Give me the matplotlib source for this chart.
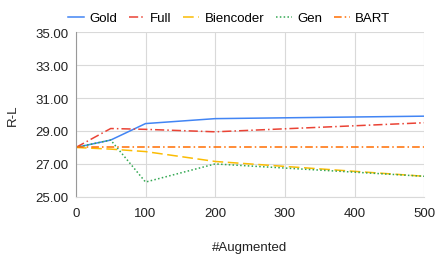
import matplotlib
matplotlib.use("Agg")
import matplotlib.pyplot as plt

plt.rcParams['font.family'] = ['Liberation Sans', 'DejaVu Sans']

augmented = [0, 50, 100, 200, 500]
gold = [28.0, 28.45, 29.45, 29.75, 29.9]
full = [28.0, 29.15, 29.1, 28.95, 29.5]
biencoder = [28.0, 27.9, 27.75, 27.15, 26.25]
gen = [28.0, 28.45, 25.9, 27.0, 26.25]
bart = [28.0, 28.0, 28.0, 28.0, 28.0]

series = [
    ("Gold", gold, "#4285F4", "-"),
    ("Full", full, "#EA4335", (0, (6, 2, 1, 2))),
    ("Biencoder", biencoder, "#FBBC04", (0, (7, 3))),
    ("Gen", gen, "#34A853", (0, (1, 1.5))),
    ("BART", bart, "#FF6D01", (0, (5, 2, 1, 2))),
]

fig = plt.figure(figsize=(4.36, 2.55), dpi=100)
ax = fig.add_axes([0.174, 0.224, 0.799, 0.646])

for name, vals, color, ls in series:
    ax.plot(augmented, vals, color=color, linestyle=ls, linewidth=1.1, label=name)

ax.set_xlim(0, 500)
ax.set_ylim(25, 35)
ax.set_xticks([0, 100, 200, 300, 400, 500])
ax.set_yticks([25, 27, 29, 31, 33, 35])
ax.set_yticklabels(["25.00", "27.00", "29.00", "31.00", "33.00", "35.00"])
ax.grid(True, color="#d9d9d9", linewidth=0.8)
ax.set_axisbelow(True)
for s in ["top", "right"]:
    ax.spines[s].set_visible(False)
ax.spines["bottom"].set_color("#d9d9d9")
ax.spines["left"].set_color("#999999")
ax.tick_params(axis="y", length=0, labelsize=9.5, pad=5, colors="#222222")
ax.tick_params(axis="x", length=0, labelsize=9.5, pad=7, colors="#222222")

ax.set_xlabel("#Augmented", fontsize=9.5, labelpad=16, color="#222222")
ax.set_ylabel("R-L", fontsize=9.5, labelpad=12, color="#222222")

ax.legend(loc="lower center", bbox_to_anchor=(0.44, 1.0), ncol=5, frameon=False,
          fontsize=9.5, handlelength=1.2, handletextpad=0.4, columnspacing=0.9,
          borderaxespad=0.2)

fig.savefig("out.png", dpi=100)
